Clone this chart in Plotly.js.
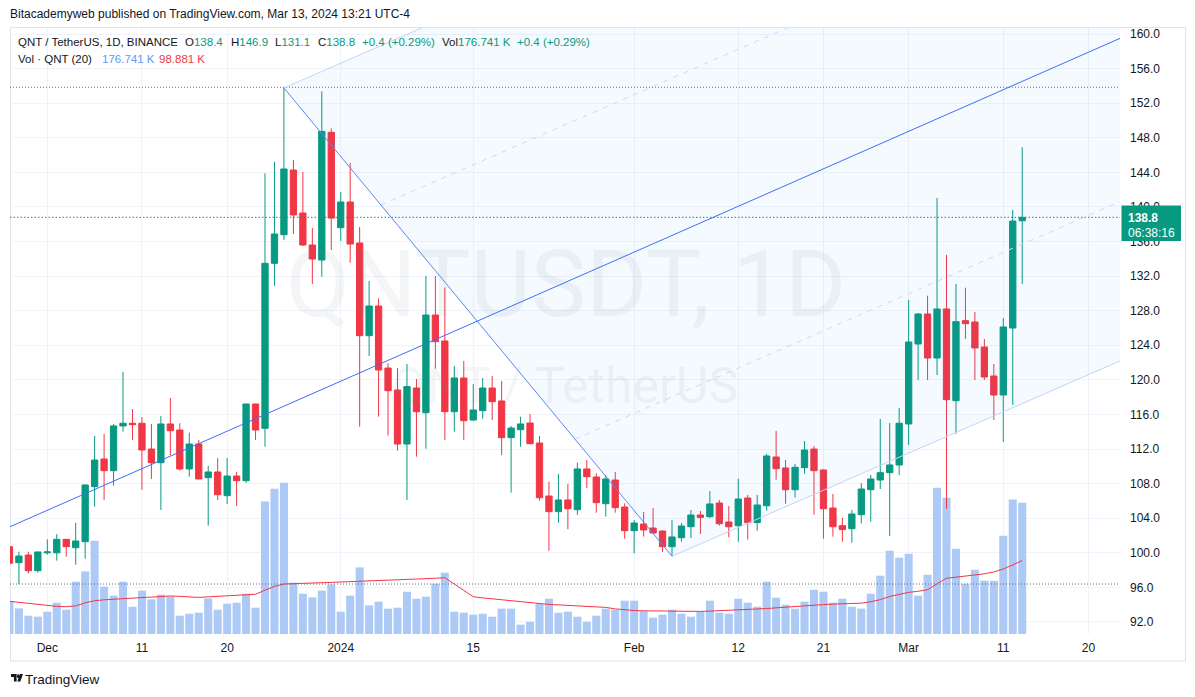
<!DOCTYPE html>
<html><head><meta charset="utf-8">
<script src="https://cdn.plot.ly/plotly-3.0.1.min.js"></script>
<style>html,body{margin:0;padding:0;background:#fff;overflow:hidden}#chart{width:1195px;height:697px}</style>
</head><body><div id="chart"></div>
<script>
// ---------------- DATA ----------------
const dates = [
'2023-11-27','2023-11-28','2023-11-29','2023-11-30',
'2023-12-01','2023-12-02','2023-12-03','2023-12-04','2023-12-05','2023-12-06','2023-12-07','2023-12-08','2023-12-09','2023-12-10',
'2023-12-11','2023-12-12','2023-12-13','2023-12-14','2023-12-15','2023-12-16','2023-12-17','2023-12-18','2023-12-19','2023-12-20',
'2023-12-21','2023-12-22','2023-12-23','2023-12-24','2023-12-25','2023-12-26','2023-12-27','2023-12-28','2023-12-29','2023-12-30','2023-12-31',
'2024-01-01','2024-01-02','2024-01-03','2024-01-04','2024-01-05','2024-01-06','2024-01-07','2024-01-08','2024-01-09','2024-01-10',
'2024-01-11','2024-01-12','2024-01-13','2024-01-14','2024-01-15','2024-01-16','2024-01-17','2024-01-18','2024-01-19','2024-01-20',
'2024-01-21','2024-01-22','2024-01-23','2024-01-24','2024-01-25','2024-01-26','2024-01-27','2024-01-28','2024-01-29','2024-01-30','2024-01-31',
'2024-02-01','2024-02-02','2024-02-03','2024-02-04','2024-02-05','2024-02-06','2024-02-07','2024-02-08','2024-02-09','2024-02-10',
'2024-02-11','2024-02-12','2024-02-13','2024-02-14','2024-02-15','2024-02-16','2024-02-17','2024-02-18','2024-02-19','2024-02-20',
'2024-02-21','2024-02-22','2024-02-23','2024-02-24','2024-02-25','2024-02-26','2024-02-27','2024-02-28','2024-02-29',
'2024-03-01','2024-03-02','2024-03-03','2024-03-04','2024-03-05','2024-03-06','2024-03-07','2024-03-08','2024-03-09','2024-03-10',
'2024-03-11','2024-03-12','2024-03-13'];

const openP = [100.7,98.86,99.75,97.93,
100.0,100.0,101.56,100.59,101.29,107.65,110.85,109.5,114.67,114.98,
114.98,112.0,110.42,114.9,114.2,109.7,112.58,108.69,109.35,106.61,
108.88,108.34,117.21,114.4,133.48,136.79,144.27,139.3,135.6,133.86,
148.63,137.6,140.57,135.83,125.11,128.54,121.37,118.83,112.58,119.06,
116.2,127.5,124.5,116.32,120.22,115.36,116.44,119.06,117.56,113.32,
114.24,115.01,112.7,106.57,104.76,106.11,104.99,109.7,108.77,105.68,
108.42,105.3,102.56,103.33,102.87,102.52,100.71,101.75,103.02,104.37,
104.18,105.76,103.56,103.14,106.34,103.49,105.45,111.08,109.81,107.3,
109.85,112.0,109.58,105.18,103.14,102.79,104.41,107.3,108.42,109.27,
110.16,114.9,124.15,127.62,122.53,128.2,117.6,126.85,126.69,123.8,
120.45,118.25,126.0,138.4];

const highP = [101.2,100.13,100.13,100.15,
101.56,102.17,101.6,103.48,107.9,113.51,113.74,114.9,120.91,116.63,
115.67,114.9,115.82,117.9,114.98,113.9,113.05,110.04,110.97,110.97,
109.35,117.25,117.25,143.89,145.23,153.84,145.43,144.04,137.56,153.37,
149.09,141.73,145.08,137.68,131.44,129.43,121.92,121.37,121.84,120.1,
132.01,132.01,130.7,121.61,122.18,119.52,120.22,120.45,119.87,114.67,
115.74,116.05,113.51,108.23,109.12,107.96,110.42,110.73,109.2,109.0,
109.35,105.73,103.8,104.72,105.18,102.6,103.8,103.45,104.95,104.84,
107.15,106.11,105.41,108.57,106.69,106.69,111.43,114.09,110.73,110.27,
112.93,112.35,109.65,106.8,104.06,104.95,108.07,109.0,115.48,115.01,
116.75,129.24,127.73,129.74,141.03,134.44,131.09,130.66,127.85,124.73,
121.84,127.16,139.65,146.9];

const lowP = [98.3,96.39,97.63,97.7,
99.78,99.1,99.55,98.63,99.32,105.34,106.11,107.76,114.01,113.05,
107.27,108.54,104.95,111.31,109.5,108.8,108.5,103.14,106.11,105.65,
105.41,108.11,113.05,112.27,130.89,136.18,136.87,135.48,131.09,131.93,
135.02,136.06,133.55,114.59,122.76,115.74,113.55,111.81,106.11,111.12,
112.04,121.29,113.05,114.01,113.05,115.24,115.51,115.36,111.31,106.96,
112.27,112.55,106.03,100.24,103.48,102.72,104.37,107.5,104.64,104.18,
104.64,101.63,99.94,101.87,102.18,100.1,99.6,101.29,101.71,102.18,
104.0,103.14,101.79,101.29,101.52,102.56,104.87,108.46,105.68,106.38,
109.15,104.41,101.63,101.87,101.29,101.17,103.41,103.6,107.38,101.95,
109.0,112.47,119.99,119.99,120.56,105.1,113.78,124.73,119.99,119.99,
115.36,112.82,117.1,131.1];

const closeP = [98.8,99.63,97.93,100.1,
100.1,101.56,100.71,101.37,107.84,110.73,109.5,114.67,114.98,114.82,
111.89,110.42,114.9,114.12,109.7,112.58,108.54,109.35,106.72,108.88,
108.34,117.21,114.2,133.48,136.87,144.39,139.07,135.6,133.98,148.74,
138.71,140.57,135.71,125.11,128.54,121.14,118.75,112.58,119.22,116.32,
127.5,124.42,116.32,120.22,115.28,116.52,119.06,117.48,113.32,114.43,
114.9,112.62,106.37,104.76,106.11,105.1,109.7,108.8,105.8,108.54,
105.22,102.56,103.45,102.64,102.29,100.71,101.83,103.1,104.37,104.1,
105.65,103.37,103.02,106.22,103.49,105.53,111.2,109.73,107.3,109.89,
111.89,109.5,105.1,103.02,102.68,104.49,107.38,108.54,109.27,110.16,
114.98,124.38,127.62,122.53,128.2,117.71,126.73,126.5,123.69,120.33,
118.25,126.12,138.37,138.8];

// volume in thousands (K)
const volumeK = [43.9,34.5,24.6,23.3,
30.0,42.1,32.7,70.4,84.3,125.6,63.7,51.6,70.4,36.7,
58.3,46.6,52.9,50.6,24.6,27.3,28.7,47.9,32.7,40.8,
42.1,54.2,35.4,178.3,195.6,203.7,69.1,54.2,49.3,58.3,
66.8,30.0,51.6,89.7,38.5,43.5,34.1,35.4,56.9,47.5,
50.2,67.7,82.5,30.0,28.7,26.0,27.3,23.3,34.1,34.1,
12.5,16.5,40.8,47.5,28.7,30.0,23.3,16.5,24.6,34.1,
32.7,44.8,44.8,30.7,22.0,26.0,32.7,27.3,23.3,30.0,
44.8,28.7,27.3,47.5,42.1,36.7,70.4,48.9,39.4,34.1,
43.5,59.6,56.9,42.1,47.5,36.7,34.1,54.2,78.5,112.1,
102.7,108.1,51.6,79.8,196.9,183.4,114.8,67.7,86.5,71.7,
71.7,132.3,180.9,176.741];

// Volume 20-period MA (K)
const volMA20K = [44.0,42.5,41.2,40.0,
38.2,37.2,36.7,37.8,42.0,44.8,46.0,46.5,47.5,48.4,
49.0,49.6,50.6,51.2,50.6,50.0,49.3,50.0,50.6,51.4,
52.0,52.6,53.5,59.0,64.0,67.3,67.5,67.8,68.2,69.0,
69.5,70.0,70.5,71.0,71.3,71.5,71.7,72.3,72.8,73.5,
74.3,75.0,75.8,67.3,58.5,50.2,48.6,47.2,45.8,44.5,
43.2,41.8,40.4,39.8,39.2,38.5,37.8,37.0,36.4,35.8,
33.8,32.3,31.6,31.2,30.9,30.6,30.4,30.3,30.3,30.4,
30.8,31.2,31.8,32.4,33.0,33.7,34.3,35.2,36.5,37.7,
38.4,39.0,39.6,40.2,40.8,41.2,41.5,43.5,46.2,50.5,
53.5,56.0,57.5,59.6,67.5,75.0,76.5,77.8,79.5,81.0,
83.5,87.5,93.0,98.881];

const xTickDates  = ['2023-12-01','2023-12-11','2023-12-20','2024-01-01','2024-01-15','2024-02-01','2024-02-12','2024-02-21','2024-03-01','2024-03-11','2024-03-20'];
const xTickLabels = ['Dec','11','20','2024','15','Feb','12','21','Mar','11','20'];

// Drawing tools on the chart (anchor points)
const trendDates  = ['2023-11-20','2024-03-31'];
const trendPrices = [99.62,163.19];
const chanA = ['2023-12-26',153.76];
const chanB = ['2024-02-05',99.6];
const chanSlopePerDay = 0.4773;
const chanDashLevels = [0.25,0.75];
const chanEnd = '2024-03-30';

const lastPrice = 138.8;
const countdown = '06:38:16';

// ---------------- helpers ----------------
const W=1195,H=697,L=10,R=1120,T=28,B=634;
const P = x => (x-L)/(R-L);
const Q = y => (B-y)/(B-T);
const DAY = 86400000;
const ms = s => Date.parse(s+'T00:00:00Z');
const GREEN='#089981', RED='#F23645', TXT='#131722';

const aT=ms(chanA[0]), bT=ms(chanB[0]), eT=ms(chanEnd);
const rayEnd = (t0,p0) => p0 + chanSlopePerDay*(eT-t0)/DAY;

const hiMark = Math.max(...highP), loMark = Math.min(...lowP);

// ---------------- traces ----------------
const traces = [
  {type:'bar', x:dates, y:volumeK, yaxis:'y', marker:{color:'#adc9f6', line:{width:0}},
   width:0.85*DAY, hoverinfo:'skip'},
  {type:'scatter', mode:'lines', x:dates, y:volMA20K, yaxis:'y',
   line:{color:RED, width:1}, hoverinfo:'skip'},
  {type:'scatter', mode:'lines', yaxis:'y2',
   x:[aT,bT,eT,eT,aT], y:[chanA[1],chanB[1],rayEnd(bT,chanB[1]),rayEnd(aT,chanA[1]),chanA[1]],
   fill:'toself', fillcolor:'rgba(33,150,243,0.05)', line:{width:0}, hoverinfo:'skip'},
  {type:'candlestick', x:dates, open:openP, high:highP, low:lowP, close:closeP, yaxis:'y2',
   increasing:{line:{color:GREEN,width:1}, fillcolor:GREEN},
   decreasing:{line:{color:RED,width:1}, fillcolor:RED},
   whiskerwidth:0, hoverinfo:'skip'}
];

// ---------------- shapes ----------------
const shapes = [];
shapes.push({type:'rect', xref:'paper', yref:'paper', x0:P(10.5), x1:P(1185.5), y0:Q(661), y1:Q(27.5),
  line:{color:'#e0e3eb', width:1}, fillcolor:'rgba(0,0,0,0)', layer:'below'});
shapes.push({type:'line', xref:'paper', yref:'y2', x0:0, x1:1, y0:hiMark, y1:hiMark, line:{color:'#6a6d78', width:1, dash:'1px,2px'}});
shapes.push({type:'line', xref:'paper', yref:'y2', x0:0, x1:1, y0:loMark, y1:loMark, line:{color:'#6a6d78', width:1, dash:'1px,2px'}});
shapes.push({type:'line', xref:'paper', yref:'y2', x0:0, x1:1, y0:lastPrice, y1:lastPrice, line:{color:GREEN, width:1, dash:'1.5px,2px'}});
shapes.push({type:'line', xref:'x', yref:'y2', x0:trendDates[0], x1:trendDates[1], y0:trendPrices[0], y1:trendPrices[1], line:{color:'#3d6ff5', width:1}});
shapes.push({type:'line', xref:'x', yref:'y2', x0:aT, x1:eT, y0:chanA[1], y1:rayEnd(aT,chanA[1]), line:{color:'#c2d4f8', width:1}});
shapes.push({type:'line', xref:'x', yref:'y2', x0:bT, x1:eT, y0:chanB[1], y1:rayEnd(bT,chanB[1]), line:{color:'#c2d4f8', width:1}});
chanDashLevels.forEach(f=>{
  const t0 = bT + f*(aT-bT), p0 = chanB[1] + f*(chanA[1]-chanB[1]);
  shapes.push({type:'line', xref:'x', yref:'y2', x0:t0, x1:eT, y0:p0, y1:rayEnd(t0,p0), line:{color:'#c8d9fa', width:1, dash:'5px,6px'}});
});
shapes.push({type:'line', xref:'x', yref:'y2', x0:aT, x1:bT, y0:chanA[1], y1:chanB[1], line:{color:'#5a88f0', width:1}});
shapes.push({type:'rect', xref:'paper', yref:'paper', x0:P(1121.5), x1:P(1181), y0:Q(241), y1:Q(205.5),
  line:{width:0}, fillcolor:GREEN, layer:'above'});
const lg = (pts)=>'M'+pts.map(p=>P(p[0])+','+Q(p[1])).join(' L')+' Z';
shapes.push({type:'path', xref:'paper', yref:'paper', path:lg([[11,674],[16.6,674],[16.6,681.5],[13.9,681.5],[13.9,677],[11,677]]), fillcolor:TXT, line:{width:0}});
shapes.push({type:'circle', xref:'paper', yref:'paper', x0:P(16.9), x1:P(19.7), y0:Q(678), y1:Q(674.3), fillcolor:TXT, line:{width:0}});
shapes.push({type:'path', xref:'paper', yref:'paper', path:lg([[20,674],[23,674],[20.3,681.5],[17.3,681.5]]), fillcolor:TXT, line:{width:0}});

// ---------------- annotations ----------------
const ann = [];
const F = 'Liberation Sans, Arial, sans-serif';
const LS = 11.5;
function txt(x,y,text,opt){ ann.push(Object.assign({xref:'paper', yref:'paper', x:P(x), y:Q(y), text:text, showarrow:false,
  xanchor:'left', yanchor:'middle', font:{family:F, size:12, color:TXT}, borderpad:0}, opt||{})); }
const g = v=>'<span style="color:'+GREEN+'">'+v+'</span>';
const lf = (c)=>({font:{family:F,size:LS,color:c||TXT}});

txt(9,14,'Bitacademyweb published on TradingView.com, Mar 13, 2024 13:21 UTC-4');
txt(17,42.5,'QNT / TetherUS, 1D, BINANCE',lf());
txt(184,42.5,'O'+g('138.4'),lf());
txt(230,42.5,'H'+g('146.9'),lf());
txt(274,42.5,'L'+g('131.1'),lf());
txt(317,42.5,'C'+g('138.8'),lf());
txt(361,42.5,g('+0.4 (+0.29%)'),lf());
txt(441,42.5,'Vol'+g('176.741 K'),lf());
txt(516,42.5,g('+0.4 (+0.29%)'),lf());
txt(17,59,'Vol · QNT (20)',lf());
txt(101,59,'176.741 K',lf('#5b9cf6'));
txt(158,59,'98.881 K',lf(RED));
// watermark
txt(566,284,'QNTUSDT, 1D',{xanchor:'center', font:{family:'Roboto, sans-serif', size:93, color:'rgba(120,123,134,0.08)'}});
txt(565,386,'QNT / TetherUS',{xanchor:'center', font:{family:'Roboto, sans-serif', size:50, color:'rgba(120,123,134,0.08)'}});
// price label
txt(1127,218.5,'<b>'+lastPrice.toFixed(1)+'</b>',{font:{family:F,size:12,color:'#ffffff'}});
txt(1127,232.5,countdown,{font:{family:F,size:12,color:'#ffffff'}});
// footer
txt(24,679,'TradingView',{font:{family:F,size:13.5,color:TXT}});

const layout = {
  width:W, height:H,
  margin:{l:L, r:W-R, t:T, b:H-B, pad:0},
  paper_bgcolor:'#ffffff', plot_bgcolor:'#ffffff',
  showlegend:false, hovermode:false,
  boxgap:0.3, boxgroupgap:0.05,
  font:{family:F, size:12, color:TXT},
  xaxis:{type:'date', range:['2023-11-27 01:25','2024-03-23 07:55'],
    tickmode:'array', tickvals:xTickDates, ticktext:xTickLabels,
    showgrid:true, gridcolor:'#f0f3fa', gridwidth:1, zeroline:false, showline:false,
    ticks:'outside', ticklen:3, tickcolor:'rgba(0,0,0,0)',
    tickfont:{family:F,size:12,color:TXT}, rangeslider:{visible:false}, fixedrange:true},
  yaxis:{range:[0,815.6], visible:false, showgrid:false, zeroline:false, fixedrange:true},
  yaxis2:{overlaying:'y', side:'right', range:[90.611,160.694],
    tickmode:'linear', tick0:0, dtick:4, tickformat:'.1f',
    showgrid:true, gridcolor:'#f0f3fa', gridwidth:1, zeroline:false, showline:false,
    ticks:'', ticklabelstandoff:9,
    tickfont:{family:F,size:12,color:TXT}, fixedrange:true},
  shapes:shapes, annotations:ann
};

Plotly.newPlot('chart', traces, layout, {staticPlot:true, displayModeBar:false});
</script>
</body></html>
